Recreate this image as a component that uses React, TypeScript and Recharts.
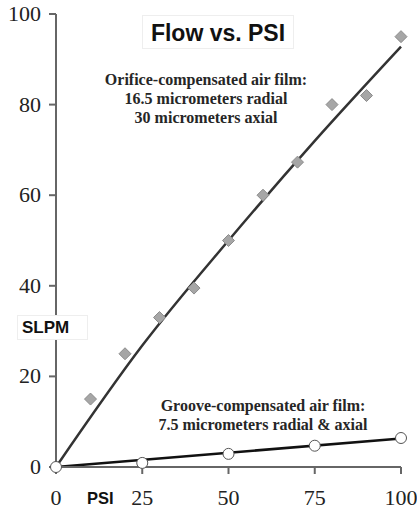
import React from "react"
import { ComposedChart, XAxis, YAxis, Scatter, Line } from "recharts"

// measured flow for the two bearing films
const orificePsi = [10, 20, 30, 40, 50, 60, 70, 80, 90, 100]
const orificeFlow = [15, 25, 33, 39.5, 50, 60, 67.3, 80, 82, 95]
const groovePsi = [0, 25, 50, 75, 100]
const grooveFlow = [0, 0.9, 2.9, 4.7, 6.4]

// trend curves
const orificeTrendPsi = [0, 25, 50, 75, 100]
const orificeTrend = [0, 26.8, 50, 72, 92.8]
const grooveTrendPsi = [0, 100]
const grooveTrend = [0, 6.3]

const xTicks = [0, 25, 50, 75, 100]
const yTicks = [0, 20, 40, 60, 80, 100]

const zip = (xs: number[], ys: number[]) => xs.map((x, i) => ({ x, y: ys[i] }))

const orificeData = zip(orificePsi, orificeFlow)
const grooveData = zip(groovePsi, grooveFlow)
const orificeLine = zip(orificeTrendPsi, orificeTrend)
const grooveLine = zip(grooveTrendPsi, grooveTrend)

const serif = "'Liberation Serif', 'Times New Roman', serif"
const sans = "'Liberation Sans', Arial, sans-serif"

const Diamond = (props: any) => {
  const { cx, cy } = props
  const r = 6
  return (
    <polygon
      points={`${cx},${cy - r} ${cx + r},${cy} ${cx},${cy + r} ${cx - r},${cy}`}
      fill="#a6a6a6"
      stroke="#8c8c8c"
      strokeWidth={1}
    />
  )
}

const OpenCircle = (props: any) => {
  const { cx, cy } = props
  return <circle cx={cx} cy={cy} r={5.5} fill="#fff" stroke="#555" strokeWidth={1} />
}

const renderXTick = (props: any) => (
  <text
    x={props.x}
    y={props.y + 23}
    textAnchor="middle"
    fontFamily="Liberation Serif"
    fontSize={22}
    fill="#222"
  >
    {props.payload.value}
  </text>
)

const renderYTick = (props: any) => (
  <text
    x={props.x}
    y={props.y + 7}
    textAnchor="end"
    fontFamily="Liberation Serif"
    fontSize={22}
    fill="#222"
  >
    {props.payload.value}
  </text>
)

const boldSerif: React.CSSProperties = {
  position: "absolute",
  fontFamily: serif,
  fontWeight: "bold",
  fontSize: 16,
  lineHeight: "19px",
  color: "#262626",
  textAlign: "center",
  whiteSpace: "nowrap",
  transform: "translateX(-50%)",
}

export default function App() {
  return (
    <div
      style={{
        position: "absolute",
        left: 0,
        top: 0,
        width: 417,
        height: 512,
        background: "#fff",
        fontFamily: serif,
      }}
    >
      <ComposedChart width={417} height={512} margin={{ top: 14, right: 16, bottom: 0, left: 0 }}>
        <XAxis
          type="number"
          dataKey="x"
          domain={[0, 100]}
          ticks={xTicks}
          height={45}
          tickSize={7}
          tickMargin={8}
          stroke="#666"
          strokeWidth={2}
          tick={renderXTick}
        />
        <YAxis
          type="number"
          dataKey="y"
          domain={[0, 100]}
          ticks={yTicks}
          width={56}
          tickSize={7}
          tickMargin={8}
          stroke="#666"
          strokeWidth={2}
          tick={renderYTick}
        />
        <Scatter data={orificeData} shape={<Diamond />} isAnimationActive={false} />
        <Scatter data={grooveData} shape={<OpenCircle />} isAnimationActive={false} />
        <Line
          data={orificeLine}
          dataKey="y"
          type="monotone"
          stroke="#333"
          strokeWidth={2.5}
          dot={false}
          activeDot={false}
          isAnimationActive={false}
        />
        <Line
          data={grooveLine}
          dataKey="y"
          type="linear"
          stroke="#111"
          strokeWidth={2.5}
          dot={false}
          activeDot={false}
          isAnimationActive={false}
        />
      </ComposedChart>

      <div
        style={{
          position: "absolute",
          left: 142,
          top: 15,
          width: 152,
          height: 34,
          boxSizing: "border-box",
          border: "1px solid #eee",
          background: "#fff",
          fontFamily: sans,
          fontWeight: "bold",
          fontSize: 23,
          lineHeight: "34px",
          textAlign: "center",
          color: "#111",
        }}
      >
        Flow vs. PSI
      </div>

      <div style={{ ...boldSerif, left: 206, top: 70 }}>
        Orifice-compensated air film:
        <br />
        16.5 micrometers radial
        <br />
        30 micrometers axial
      </div>

      <div style={{ ...boldSerif, left: 263, top: 396 }}>
        Groove-compensated air film:
        <br />
        7.5 micrometers radial &amp; axial
      </div>

      <div
        style={{
          position: "absolute",
          left: 17,
          top: 315,
          width: 71,
          height: 25,
          boxSizing: "border-box",
          border: "1px solid #eee",
          background: "#fff",
          fontFamily: sans,
          fontWeight: "bold",
          fontSize: 17,
          lineHeight: "24px",
          paddingLeft: 4,
          color: "#111",
        }}
      >
        SLPM
      </div>

      <div
        style={{
          position: "absolute",
          left: 87,
          top: 488,
          fontFamily: sans,
          fontWeight: "bold",
          fontSize: 16.5,
          lineHeight: "20px",
          color: "#111",
        }}
      >
        PSI
      </div>
    </div>
  )
}
